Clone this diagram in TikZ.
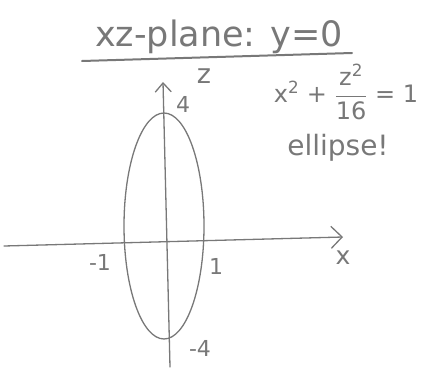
\documentclass[tikz,border=0pt]{standalone}
\usepackage{fontspec}
\setmainfont{DejaVu Sans}
\newfontfamily\handfont{DejaVu Sans}
\usetikzlibrary{arrows.meta,shapes.geometric}
\definecolor{pencil}{RGB}{120,120,120}
\tikzset{
  pen/.style={draw=pencil, line width=1.3pt, line cap=round, line join=round},
  hand/.style={text=pencil, inner sep=0pt, font=\fontsize{22}{24}\selectfont\handfont},
}
\begin{document}
\begin{tikzpicture}[x=1pt,y=-1pt]
\useasboundingbox (0,0) rectangle (422,375);
% title
\node[hand, font=\fontsize{35}{37}\selectfont\handfont] (title) at (219,37) {xz-plane: y=0};
\coordinate (ul1) at (82,61);
\coordinate (ul2) at (352,53);
\draw[pen, line width=2pt] (ul1) -- (ul2);
% axes
\coordinate (xl) at (4,246);
\coordinate (xr) at (343,237);
\draw[pen, -{Straight Barb[length=11pt,width=22pt]}] (xl) -- (xr);
\coordinate (zb) at (170,367);
\coordinate (zt) at (163,82);
\draw[pen, -{Straight Barb[length=9pt,width=16pt]}] (zb) -- (zt);
% ellipse
\node[pen, draw, ellipse, minimum width=80pt, minimum height=226pt, inner sep=0pt] (ell) at (164,226) {};
% labels
\node[hand, font=\fontsize{27}{29}\selectfont\handfont] (zlab) at (204,76) {z};
\node[hand, font=\fontsize{25}{27}\selectfont\handfont] (xlab) at (343,258) {x};
\node[hand] (four) at (183,104) {4};
\node[hand] (mfour) at (200,348) {-4};
\node[hand] (mone) at (100,262) {-1};
\node[hand] (one) at (216,266) {1};
\node[hand, font=\fontsize{24}{26}\selectfont\handfont] (eq) at (346,92) {x\textsuperscript{2} + $\displaystyle\frac{\mbox{\handfont z\textsuperscript{2}}}{\mbox{\handfont 16}}$ = 1};
\node[hand, font=\fontsize{28}{30}\selectfont\handfont] (ellip) at (338,148) {ellipse!};
\end{tikzpicture}
\end{document}
